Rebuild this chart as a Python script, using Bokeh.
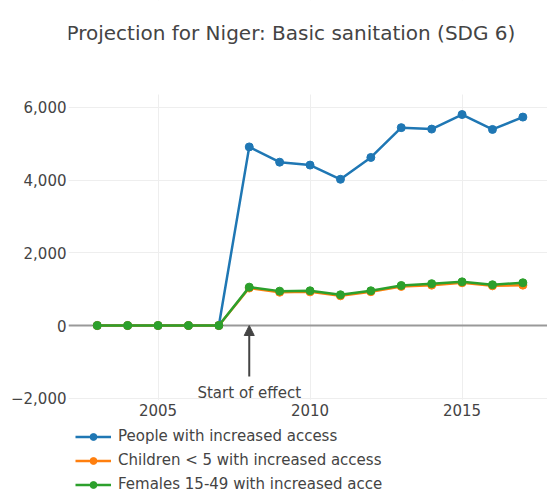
from bokeh.plotting import figure
from bokeh.models import (Range1d, FixedTicker, CustomJSTickFormatter, Span, Arrow,
                          NormalHead, Label, Legend, LegendItem, BoxAnnotation, Title)
from bokeh.embed import file_html
from bokeh.resources import INLINE

# ---- data ----
years = list(range(2003, 2018))
people = [0, 0, 0, 0, 0, 4910, 4490, 4410, 4020, 4620, 5440, 5400, 5800, 5390, 5730]
children = [0, 0, 0, 0, 0, 1030, 915, 925, 815, 930, 1075, 1110, 1175, 1090, 1110]
females = [0, 0, 0, 0, 0, 1055, 945, 955, 845, 955, 1100, 1150, 1200, 1120, 1175]
series_labels = ["People with increased access",
                 "Children < 5 with increased access",
                 "Females 15-49 with increased acce"]
x_ticks = [2005, 2010, 2015]
y_ticks = [-2000, 0, 2000, 4000, 6000]
annotation_year = 2008
annotation_text = "Start of effect"
title_text = "Projection for Niger: Basic sanitation (SDG 6)"

# ---- layout constants (the frame covers the full canvas height) ----
FONT = "DejaVu Sans"
TEXT = "#444444"
COLORS = ["#1f77b4", "#ff7f0e", "#2ca02c"]
X0, X1 = 2002.055, 2017.81
Y0, Y1 = -4701, 8935          # whole canvas height
PLOT_BOTTOM, PLOT_TOP = -2040, 6350   # visible plotting area

p = figure(width=547, height=496, output_backend="svg", toolbar_location=None,
           x_range=Range1d(X0, X1), y_range=Range1d(Y0, Y1),
           min_border_left=59, min_border_right=0, min_border_top=0,
           min_border_bottom=0)
p.outline_line_color = None
p.background_fill_color = "white"
p.title.text = ""

xa = p.xaxis[0]
xa.ticker = FixedTicker(ticks=x_ticks)
xa.fixed_location = PLOT_BOTTOM
ya = p.yaxis[0]
ya.ticker = FixedTicker(ticks=y_ticks)
ya.formatter = CustomJSTickFormatter(code="""
    const s = Math.abs(tick).toLocaleString('en-US');
    return (tick < 0 ? '\u2212' : '') + s;
""")
for ax in (xa, ya):
    ax.axis_line_color = None
    ax.major_tick_line_color = None
    ax.minor_tick_line_color = None
    ax.major_tick_out = 0
    ax.major_tick_in = 0
    ax.minor_tick_out = 0
    ax.major_label_text_font = FONT
    ax.major_label_text_font_size = "15px"
    ax.major_label_text_color = TEXT
xa.major_label_standoff = 4
ya.major_label_standoff = 2

# small blank spacer left of the y-axis labels
p.add_layout(Title(text=" ", text_font_size="1px", standoff=4), "left")

p.xgrid.ticker = FixedTicker(ticks=x_ticks)
p.ygrid.ticker = FixedTicker(ticks=y_ticks)
p.xgrid.grid_line_color = "#eeeeee"
p.ygrid.grid_line_color = "#eeeeee"

# keep vertical grid lines inside the plotting area
p.add_layout(BoxAnnotation(bottom=PLOT_TOP, fill_color="white", fill_alpha=1,
                           line_alpha=0, level="underlay"))
p.add_layout(BoxAnnotation(top=PLOT_BOTTOM, fill_color="white", fill_alpha=1,
                           line_alpha=0, level="underlay"))

p.add_layout(Span(location=0, dimension="width", line_color="#999999",
                  line_width=2, level="underlay"))

items = []
for vals, lab, col in zip([people, children, females], series_labels, COLORS):
    r1 = p.line(years, vals, line_color=col, line_width=2.5)
    r2 = p.scatter(years, vals, size=8, fill_color=col, line_color=col)
    items.append(LegendItem(label=lab, renderers=[r1, r2]))

p.add_layout(Arrow(end=NormalHead(size=10, fill_color=TEXT, line_color=TEXT),
                   x_start=annotation_year, y_start=-1402,
                   x_end=annotation_year, y_end=0,
                   line_color=TEXT, line_width=2))
p.add_layout(Label(x=annotation_year, y=-1862, text=annotation_text,
                   text_align="center", text_baseline="alphabetic",
                   text_font=FONT, text_font_size="15px", text_color=TEXT))

# chart title
p.add_layout(Label(x=X0, y=8055, x_offset=-2, text=title_text,
                   text_align="left", text_baseline="alphabetic",
                   text_font=FONT, text_font_size="20px", text_color=TEXT))

legend = Legend(items=items, location=(7, 0), orientation="vertical",
                label_text_font=FONT, label_text_font_size="15px",
                label_text_color=TEXT, glyph_width=36, glyph_height=17,
                label_height=24, spacing=0, padding=0, margin=0,
                label_standoff=7, background_fill_alpha=0,
                border_line_alpha=0)
p.add_layout(legend, "center")

open("out.html", "w").write(file_html(p, INLINE))
